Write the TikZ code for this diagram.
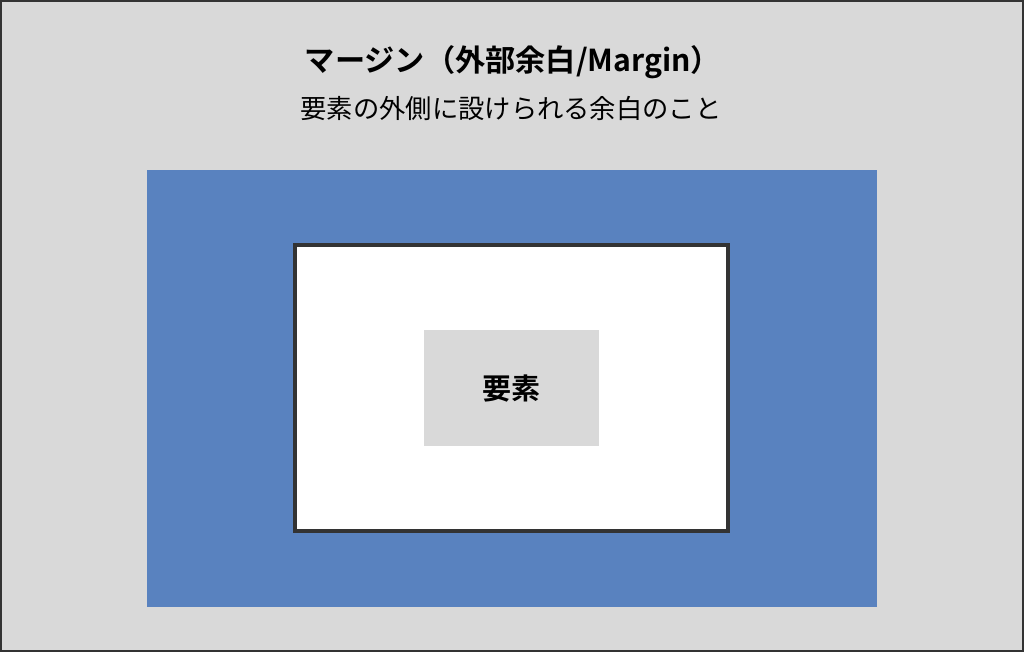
\documentclass[tikz,border=0pt]{standalone}
\usepackage{fontspec}
\newfontfamily\jp{Noto Sans CJK JP}
\newfontfamily\jpb{Noto Sans CJK JP Bold}
\definecolor{bggray}{HTML}{D9D9D9}
\definecolor{marginblue}{HTML}{5982BF}
\definecolor{edgedark}{HTML}{333333}
\tikzset{
  titletext/.style={font=\jpb\fontsize{30.2}{34}\selectfont, text=black, inner sep=0pt},
  subtext/.style={font=\jp\fontsize{26.3}{30}\selectfont, text=black, inner sep=0pt},
  elemtext/.style={font=\jpb\fontsize{29}{32}\selectfont, text=black, inner sep=0pt},
}
\begin{document}
\begin{tikzpicture}[x=1pt,y=-1pt]
\useasboundingbox (0,0) rectangle (1024,652);
\fill[bggray] (0,0) rectangle (1024,652);
\draw[edgedark, line width=2pt] (1,1) rectangle (1023,651);
\fill[marginblue] (147,170) rectangle (877,607);
\draw[edgedark, line width=4pt, fill=white] (295,245) rectangle (728,531);
\fill[bggray] (424,330) rectangle (599,446);
\node[titletext] (title) at (513,62) {マージン（外部余白/Margin）};
\node[subtext] (sub) at (511,108) {要素の外側に設けられる余白のこと};
\node[elemtext] (elem) at (511.5,389) {要素};
\end{tikzpicture}
\end{document}
